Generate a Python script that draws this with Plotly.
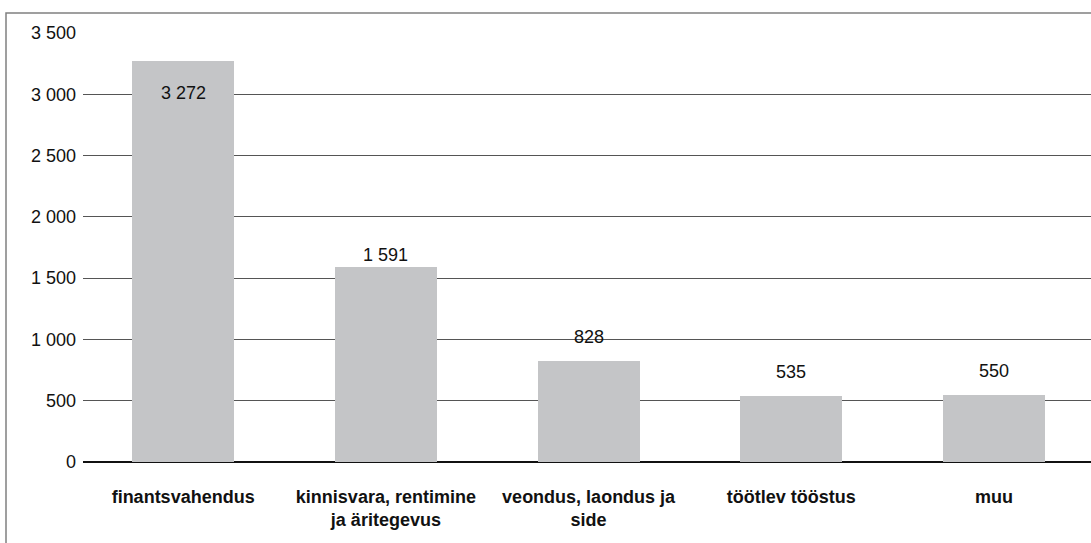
import plotly.graph_objects as go

categories = ["finantsvahendus", "kinnisvara, rentimine<br>ja äritegevus", "veondus, laondus ja<br>side", "töötlev tööstus", "muu"]
values = [3272, 1591, 828, 535, 550]
value_labels = ["3 272", "1 591", "828", "535", "550"]
tick_vals = [0, 500, 1000, 1500, 2000, 2500, 3000, 3500]
tick_text = ["0", "500", "1 000", "1 500", "2 000", "2 500", "3 000", "3 500"]

label_shift = [-32, 12, 24, 24, 24]

FONT = "Liberation Sans, Arial, Helvetica, sans-serif"

xpos = list(range(len(categories)))

fig = go.Figure()
fig.add_trace(go.Bar(
    x=xpos, y=values, width=0.502,
    marker=dict(color="#C4C5C7", line=dict(width=0)),
    hoverinfo="skip",
))

for xi, v, lab, s in zip(xpos, values, value_labels, label_shift):
    fig.add_annotation(x=xi, y=v, text=lab, showarrow=False, yshift=s,
                       xanchor="center", yanchor="middle",
                       font=dict(family=FONT, size=18, color="#111"))

# outer frame
fig.add_shape(type="rect", xref="paper", yref="paper",
              x0=(6 - 83) / 1008, x1=1.2, y0=-0.5, y1=1 + 20 / 429,
              line=dict(color="#808080", width=1.5), fillcolor="rgba(0,0,0,0)",
              layer="below")

fig.update_layout(
    width=1091, height=543,
    margin=dict(l=83, r=0, t=33, b=81),
    paper_bgcolor="white", plot_bgcolor="white",
    showlegend=False,
    font=dict(family=FONT, size=18, color="#111"),
    xaxis=dict(
        tickmode="array", tickvals=xpos, ticktext=categories,
        range=[-0.494, 4.478],
        showgrid=False, zeroline=False, showline=False, ticks="",
        tickfont=dict(family=FONT, size=18, color="#111", weight="bold"),
        ticklabelstandoff=22,
    ),
    yaxis=dict(
        range=[0, 3500], tickmode="array", tickvals=tick_vals, ticktext=tick_text,
        showgrid=True, gridcolor="#555", gridwidth=1,
        zeroline=True, zerolinecolor="#111", zerolinewidth=2,
        showline=False, ticks="",
        tickfont=dict(family=FONT, size=18, color="#111"),
        ticklabelstandoff=6,
    ),
    bargap=0,
)

fig.write_html("out.html", config={"displayModeBar": False},
               post_script="document.body.style.margin='0';document.body.style.overflow='hidden';")
